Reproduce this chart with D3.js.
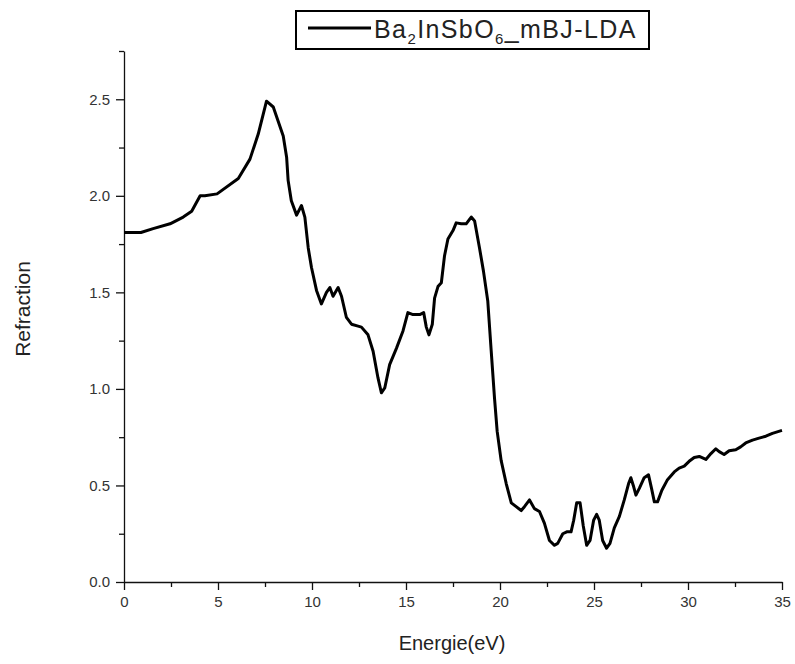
<html>
<head>
<script src="https://d3js.org/d3.v7.min.js"></script>
<style>
  body { margin: 0; background: white; }
  text { font-family: "Liberation Sans", Arial, sans-serif; }
</style>
</head>
<body>
<svg width="795" height="664"></svg>
<script>
  // values
  var energy = [0,0.9,1.55,2.45,3.15,3.6,4.05,4.3,4.95,6.08,6.7,7.14,7.58,7.94,8.47,8.65,8.73,8.9,9.18,9.44,9.62,9.8,9.97,
    10.24,10.5,10.77,10.95,11.12,11.39,11.57,11.83,12.1,12.45,12.63,12.98,13.25,13.51,13.69,13.87,14.13,14.49,14.84,
    15.1,15.37,15.73,15.94,16.08,16.22,16.4,16.52,16.7,16.88,17.05,17.23,17.5,17.67,17.94,18.2,18.47,18.65,18.91,19.12,
    19.35,19.53,19.71,19.85,20.06,20.33,20.6,20.86,21.13,21.3,21.57,21.83,22.1,22.36,22.63,22.9,23.07,23.34,23.55,23.78,
    23.92,24.08,24.26,24.43,24.61,24.79,24.98,25.14,25.28,25.46,25.67,25.85,26.08,26.35,26.61,26.84,26.96,27.09,27.23,
    27.41,27.67,27.9,28.06,28.21,28.38,28.61,28.91,29.27,29.53,29.8,30.06,30.33,30.6,30.95,31.22,31.48,31.66,31.92,32.19,
    32.54,32.8,33.07,33.43,33.78,34.14,34.49,35];
  var refraction = [1.81,1.81,1.83,1.855,1.89,1.92,2.0,2.0,2.01,2.09,2.19,2.32,2.49,2.46,2.31,2.2,2.08,1.975,1.90,1.95,1.89,1.73,1.63,
    1.51,1.44,1.50,1.525,1.48,1.525,1.48,1.37,1.335,1.325,1.32,1.28,1.195,1.057,0.98,1.005,1.126,1.21,1.30,
    1.395,1.385,1.385,1.395,1.32,1.28,1.335,1.47,1.53,1.55,1.69,1.776,1.82,1.86,1.855,1.855,1.89,1.87,1.73,1.61,
    1.455,1.2,0.95,0.78,0.63,0.51,0.41,0.39,0.37,0.39,0.425,0.38,0.365,0.305,0.215,0.19,0.20,0.25,0.26,0.26,
    0.32,0.41,0.41,0.29,0.19,0.215,0.32,0.35,0.32,0.215,0.175,0.20,0.28,0.34,0.425,0.51,0.54,0.50,0.45,
    0.485,0.54,0.555,0.485,0.415,0.415,0.475,0.53,0.57,0.59,0.60,0.625,0.645,0.65,0.635,0.665,0.69,0.675,0.66,0.68,
    0.685,0.70,0.72,0.735,0.745,0.755,0.77,0.785];
  var xTicks = [0,5,10,15,20,25,30,35];
  var xMinor = [2.5,7.5,12.5,17.5,22.5,27.5,32.5];
  var yTicks = [0,0.5,1.0,1.5,2.0,2.5];
  var yMinor = [0.25,0.75,1.25,1.75,2.25,2.75];

  var plotLeft = 124, plotRight = 782, plotTop = 51, plotBottom = 582;
  var svg = d3.select("svg");

  var x = d3.scaleLinear().domain([0,35]).range([plotLeft, plotRight]);
  var y = d3.scaleLinear().domain([0,2.75]).range([plotBottom, plotTop]);

  // minor ticks first, no labels
  svg.append("g").attr("transform","translate(0,"+plotBottom+")")
    .call(d3.axisBottom(x).tickValues(xMinor).tickSize(5).tickFormat(""))
    .call(function(g){ g.select(".domain").remove(); });
  svg.append("g").attr("transform","translate("+plotLeft+",0)")
    .call(d3.axisLeft(y).tickValues(yMinor).tickSize(5).tickFormat(""))
    .call(function(g){ g.select(".domain").remove(); });

  svg.append("g").attr("transform","translate(0,"+plotBottom+")")
    .call(d3.axisBottom(x).tickValues(xTicks).tickSize(8).tickSizeOuter(0).tickPadding(6));
  svg.append("g").attr("transform","translate("+plotLeft+",0)")
    .call(d3.axisLeft(y).tickValues(yTicks).tickSize(8).tickSizeOuter(0).tickPadding(6).tickFormat(d3.format(".1f")));

  svg.selectAll(".tick line, .domain").attr("stroke","#111").attr("stroke-width",1.3);
  svg.selectAll(".tick text").attr("font-size",15).attr("fill","#333")
    .attr("font-family","'Liberation Sans', Arial, sans-serif");

  // the curve
  var pts = energy.map(function(e,i){ return [e, refraction[i]]; });
  svg.append("path").datum(pts)
    .attr("fill","none").attr("stroke","black").attr("stroke-width",3)
    .attr("stroke-linejoin","round")
    .attr("d", d3.line().x(function(d){return x(d[0]);}).y(function(d){return y(d[1]);}));

  // axis titles
  svg.append("text").attr("x",452).attr("y",650).attr("text-anchor","middle")
    .attr("font-size",20).attr("fill","#222").text("Energie(eV)");
  svg.append("text").attr("transform","translate(30,309) rotate(-90)").attr("text-anchor","middle")
    .attr("font-size",21).attr("fill","#222").text("Refraction");

  // legend
  var lg = svg.append("g");
  lg.append("rect").attr("x",296).attr("y",11).attr("width",353).attr("height",38)
    .attr("fill","white").attr("stroke","black").attr("stroke-width",2);
  lg.append("line").attr("x1",308).attr("x2",371).attr("y1",28).attr("y2",28)
    .attr("stroke","black").attr("stroke-width",3);
  var t = lg.append("text").attr("x",374).attr("y",38).attr("font-size",25)
    .attr("letter-spacing",1.4).attr("fill","#222");
  t.append("tspan").text("Ba");
  t.append("tspan").attr("font-size",15).attr("dy",6).text("2");
  t.append("tspan").attr("dy",-6).text("InSbO");
  t.append("tspan").attr("font-size",15).attr("dy",6).text("6");
  t.append("tspan").attr("dy",-6).text("_mBJ-LDA");
</script>
</body>
</html>
